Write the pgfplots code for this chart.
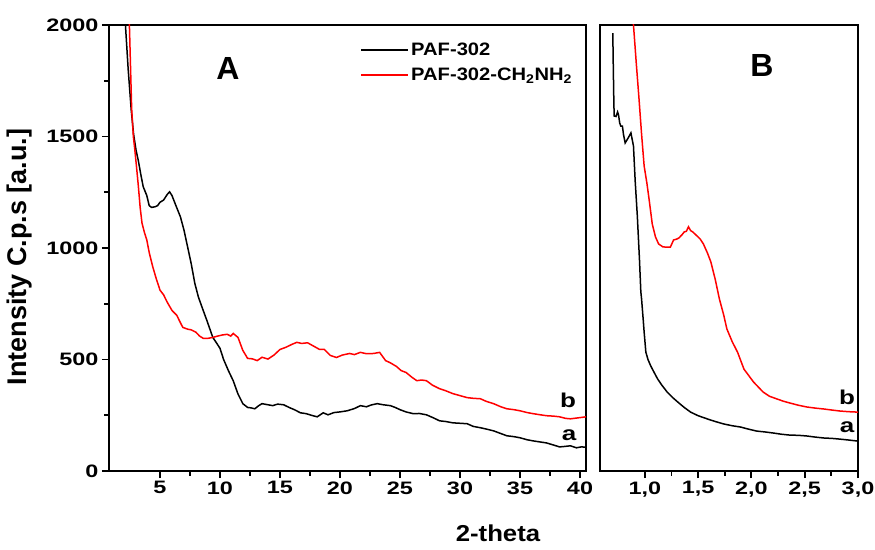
\documentclass[border=0pt]{standalone}
\usepackage{fontspec}
\setmainfont{Liberation Sans}
\newfontfamily\tickfont{Liberation Sans}[FakeStretch=1.3]
\newfontfamily\legfont{Liberation Sans}[FakeStretch=1.12]
\usepackage{pgfplots}
\pgfplotsset{compat=1.18}
\begin{document}
\begin{tikzpicture}
\useasboundingbox (0pt,0pt) rectangle (875pt,549pt);
\pgfplotsset{
  common/.style={
    scale only axis, anchor=south west, height=446pt,
    ymin=0, ymax=2000,
    tick align=outside, tick pos=left,
    axis line style={line width=2.2pt},
    every tick/.style={black, line width=1.8pt},
    major tick length=7pt, minor tick length=4.5pt,
    minor tick num=1,
    ticklabel style={font=\tickfont\bfseries\fontsize{18}{18}\selectfont},
    /pgf/number format/assume math mode=true,
    /pgf/number format/1000 sep={},
    scaled ticks=false,
    every axis plot/.append style={line width=1.5pt},
  }
}
\begin{axis}[common, at={(109pt,78pt)}, width=477pt,
  xmin=0.75, xmax=40.5,
  xtick={5,10,...,40}, ytick={0,500,...,2000},
  legend style={draw=none, fill=none, at={(0.521,0.969)}, anchor=north west,
    font=\legfont\bfseries\fontsize{18}{18}\selectfont, row sep=7pt},
  legend cell align=left,
  legend image code/.code={\draw[#1] (0pt,0pt) -- (47pt,0pt);},
]
\addplot[black] coordinates {
(1.9,2200) (2.12,2000) (2.35,1800) (2.6,1620) (2.8,1510) (3.0,1440) (3.2,1390) (3.4,1330) (3.6,1275) (3.9,1235) (4.1,1190) (4.3,1182) (4.6,1185) (4.8,1190) (5.0,1205) (5.3,1215) (5.6,1240) (5.8,1252) (6.0,1235) (6.4,1180) (6.7,1140) (7.0,1080) (7.3,1005) (7.6,930) (7.9,842) (8.2,780) (8.6,720) (8.9,676) (9.2,630) (9.4,599) (9.7,575) (10.0,550) (10.3,500) (10.7,450) (11.1,405) (11.5,345) (11.9,302) (12.3,285) (12.6,283) (12.9,279) (13.2,292) (13.5,302) (13.9,298) (14.4,293) (14.8,300) (15.3,297) (15.8,284) (16.2,275) (16.7,261) (17.2,257) (17.6,250) (18.1,243) (18.6,261) (19.0,252) (19.5,262) (20.0,265) (20.6,270) (21.2,280) (21.7,293) (22.2,288) (22.6,296) (23.1,302) (23.6,297) (24.2,293) (24.6,285) (25.0,275) (25.5,265) (26.1,257) (26.6,258) (27.2,252) (27.8,238) (28.3,225) (28.8,222) (29.4,216) (30.0,214) (30.6,212) (31.1,200) (31.7,194) (32.2,188) (32.8,180) (33.4,168) (33.9,158) (34.5,154) (35.0,149) (35.6,140) (36.1,135) (36.7,130) (37.2,126) (37.7,118) (38.3,108) (38.7,110) (39.2,113) (39.7,104) (40.1,108) (40.5,107)
};
\addlegendentry{PAF-302}
\addplot[red] coordinates {
(2.3,2200) (2.45,2000) (2.55,1800) (2.64,1622) (2.78,1500) (2.9,1441) (3.05,1360) (3.2,1275) (3.35,1180) (3.5,1112) (3.7,1070) (3.9,1036) (4.1,980) (4.4,915) (4.7,860) (5.0,811) (5.3,790) (5.6,757) (6.0,720) (6.4,698) (6.7,665) (6.9,644) (7.3,636) (7.6,633) (8.0,622) (8.3,605) (8.6,595) (9.0,595) (9.4,599) (9.8,605) (10.2,610) (10.6,613) (10.9,605) (11.1,617) (11.5,599) (11.9,541) (12.3,505) (12.7,503) (13.1,495) (13.5,510) (14.0,502) (14.5,520) (15.0,545) (15.5,555) (16.0,568) (16.4,577) (16.8,572) (17.3,575) (17.8,560) (18.3,545) (18.7,545) (19.2,518) (19.7,509) (20.2,520) (20.8,527) (21.2,522) (21.7,532) (22.2,526) (22.8,527) (23.3,532) (23.8,495) (24.2,485) (24.7,469) (25.1,450) (25.5,442) (26.0,420) (26.4,405) (26.8,408) (27.2,405) (27.7,385) (28.3,369) (28.8,360) (29.4,347) (30.0,338) (30.6,329) (31.1,326) (31.7,324) (32.2,312) (32.8,302) (33.4,288) (33.9,279) (34.5,275) (35.0,270) (35.6,262) (36.1,257) (36.7,252) (37.2,248) (37.8,246) (38.3,243) (38.8,236) (39.2,234) (39.8,238) (40.5,243)
};
\addlegendentry{PAF-302-CH\textsubscript{2}NH\textsubscript{2}}
\end{axis}
\begin{axis}[common, at={(600pt,78pt)}, width=258pt,
  xmin=0.58, xmax=3.0, ytick=\empty,
  xtick={1,1.5,2,2.5,3}, xticklabels={{1,0},{1,5},{2,0},{2,5},{3,0}},
]
\addplot[black] coordinates {
(0.70,1964) (0.705,1800) (0.71,1650) (0.713,1592) (0.73,1590) (0.745,1610) (0.754,1596) (0.765,1560) (0.775,1547) (0.79,1547) (0.80,1510) (0.816,1471) (0.84,1490) (0.87,1516) (0.894,1457) (0.91,1300) (0.93,1144) (0.95,950) (0.963,803) (0.97,771) (0.985,680) (0.994,623) (1.01,533) (1.03,500) (1.056,471) (1.09,440) (1.12,413) (1.16,385) (1.21,354) (1.26,330) (1.31,309) (1.37,285) (1.43,264) (1.5,248) (1.59,233) (1.66,222) (1.74,211) (1.82,203) (1.90,197) (1.97,188) (2.05,179) (2.13,175) (2.21,170) (2.28,165) (2.36,161) (2.44,160) (2.52,157) (2.60,152) (2.68,148) (2.76,146) (2.83,143) (2.91,139) (3.0,134)
};
\addplot[red] coordinates {
(0.88,2100) (0.894,2000) (0.92,1830) (0.946,1668) (0.97,1510) (0.994,1368) (1.02,1290) (1.04,1220) (1.07,1108) (1.10,1050) (1.13,1018) (1.17,1005) (1.20,1004) (1.24,1004) (1.27,1036) (1.30,1040) (1.32,1045) (1.35,1060) (1.37,1072) (1.39,1075) (1.41,1095) (1.43,1078) (1.45,1072) (1.49,1054) (1.52,1040) (1.55,1018) (1.59,975) (1.62,937) (1.66,861) (1.70,771) (1.74,700) (1.77,637) (1.82,580) (1.87,533) (1.93,457) (2.02,399) (2.11,354) (2.17,335) (2.24,323) (2.30,313) (2.36,305) (2.44,295) (2.52,287) (2.60,282) (2.68,278) (2.76,273) (2.83,269) (2.91,266) (3.0,264)
};
\end{axis}
\node[font=\bfseries\fontsize{32}{32}\selectfont] at (228pt,481pt) {A};
\node[font=\bfseries\fontsize{32}{32}\selectfont] at (762pt,484pt) {B};
\node[rotate=90, font=\bfseries\fontsize{27}{27}\selectfont] at (20pt,292pt) {Intensity C.p.s [a.u.]};
\node[anchor=base, font=\legfont\bfseries\fontsize{23}{23}\selectfont] at (498pt,8pt) {2-theta};
\node[font=\tickfont\bfseries\fontsize{20}{20}\selectfont] at (568pt,149pt) {b};
\node[font=\tickfont\bfseries\fontsize{20}{20}\selectfont] at (569pt,114pt) {a};
\node[font=\tickfont\bfseries\fontsize{20}{20}\selectfont] at (847pt,152pt) {b};
\node[font=\tickfont\bfseries\fontsize{20}{20}\selectfont] at (847pt,122pt) {a};
\end{tikzpicture}
\end{document}
